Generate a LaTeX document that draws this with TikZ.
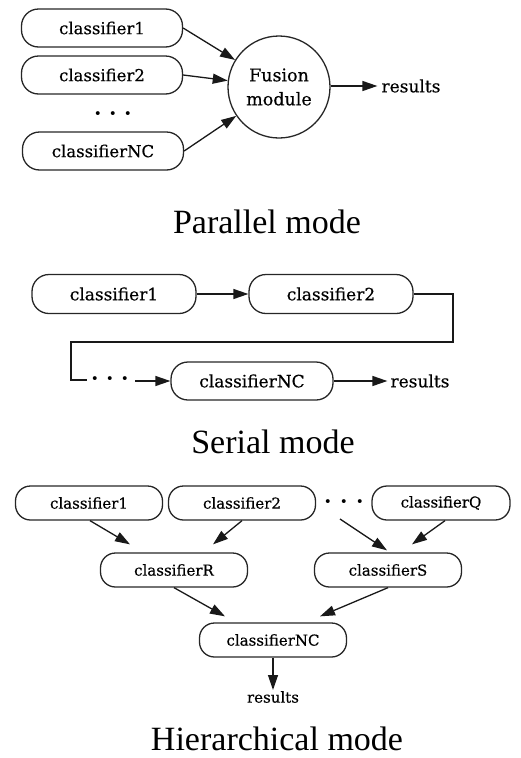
\documentclass[tikz,border=0pt]{standalone}
\usepackage{fontspec}
\setmainfont{Liberation Serif}
\newfontfamily\nodefont[FakeBold=0.4]{DejaVu Serif}
\usetikzlibrary{arrows.meta,calc}
\begin{document}
\begin{tikzpicture}[x=1pt,y=-1pt,
  box/.style={draw=black!85, line width=1.3pt, rounded corners=17pt, inner sep=0pt,
    font=\nodefont\fontsize{16.5}{20}\selectfont},
  pbox/.style={box, minimum width=161pt, minimum height=38pt},
  sbox/.style={box, minimum width=164pt, minimum height=39pt, font=\nodefont\fontsize{17}{20}\selectfont},
  hbox/.style={box, minimum width=147pt, minimum height=34pt, rounded corners=15pt,
    font=\nodefont\fontsize{15}{18}\selectfont},
  lbl/.style={font=\nodefont\fontsize{17}{20}\selectfont, inner sep=1pt},
  title/.style={font=\fontsize{34}{40}\selectfont, anchor=base, inner sep=0pt},
  arr/.style={line width=1.3pt, draw=black!90, -{Triangle[length=15pt,width=10pt]}},
  conn/.style={line width=1.3pt, draw=black!90},
  dotsnode/.style={font=\bfseries\fontsize{24}{24}\selectfont, anchor=base, inner sep=0pt}]
\useasboundingbox (0,0) rectangle (520,758);

% ---------------- Parallel mode
\node[pbox] (p1) at (102,28) {classifier1};
\node[pbox] (p2) at (102,75) {classifier2};
\node[dotsnode] (pd) at (113,121) {·\hspace{7pt}·\hspace{7pt}·};
\node[pbox] (pN) at (103,151) {classifierNC};
\node[draw=black!85, line width=1.3pt, circle, minimum size=102pt, inner sep=0pt,
  align=center, font=\nodefont\fontsize{17.5}{24}\selectfont] (pF) at (279,87) {Fusion\\module};
\node[lbl] (pr) at (411,86) {results};
\draw[arr] (p1.east) -- (pF);
\draw[arr] (p2.east) -- (pF);
\draw[arr] (pN.east) -- (pF);
\draw[arr, shorten >=3pt] (pF.east |- pr.west) -- (pr.west);
\node[title] (pt) at (267,233) {Parallel mode};

% ---------------- Serial mode
\node[sbox] (s1) at (114,294) {classifier1};
\node[sbox] (s2) at (331,294) {classifier2};
\node[sbox, minimum width=162pt, minimum height=38pt] (sN) at (252,381) {classifierNC};
\node[lbl] (sr) at (420,381) {results};
\coordinate (sa) at (453,342);
\coordinate (sb) at (71,342);
\coordinate (sc) at (87,380);
\node[dotsnode] (sd) at (110,386) {·\hspace{7pt}·\hspace{7pt}·};
\coordinate (se) at (135,381);
\draw[arr] (s1) -- (s2);
\draw[conn] (s2.east) -| (sa) -- (sb) |- (sc);
\draw[arr] (se) -- (sN.west);
\draw[arr, shorten >=2pt] (sN) -- (sr);
\node[title] (st) at (273,453) {Serial mode};

% ---------------- Hierarchical mode
\node[hbox] (h1) at (89,503) {classifier1};
\node[hbox] (h2) at (242,503) {classifier2};
\node[dotsnode] (hd) at (344,509) {·\hspace{8pt}·\hspace{8pt}·};
\node[hbox, minimum width=138pt] (hQ) at (441,503) {classifierQ};
\node[hbox] (hR) at (174,570) {classifierR};
\node[hbox] (hS) at (388,570) {classifierS};
\node[hbox] (hN) at (273,640) {classifierNC};
\node[lbl, font=\nodefont\fontsize{15}{18}\selectfont] (hr) at (273,697) {results};
\draw[arr] ($(h1.south)+(1,0)$) -- ($(hR.north)+(-44,-8)$);
\draw[arr] (h2.south) -- ($(hR.north)+(39,-8)$);
\draw[arr] ($(hd.base)+(-4,10)$) -- ($(hS.north)+(-1,-2)$);
\draw[arr] ($(hQ.south)+(4,0)$) -- ($(hS.north)+(24,-8)$);
\draw[arr] (hR.south) -- ($(hN.north)+(-48,-6)$);
\draw[arr] (hS.south) -- ($(hN.north)+(47,-6)$);
\draw[arr] (hN) -- (hr);
\node[title] (ht) at (277,750) {Hierarchical mode};
\end{tikzpicture}
\end{document}
